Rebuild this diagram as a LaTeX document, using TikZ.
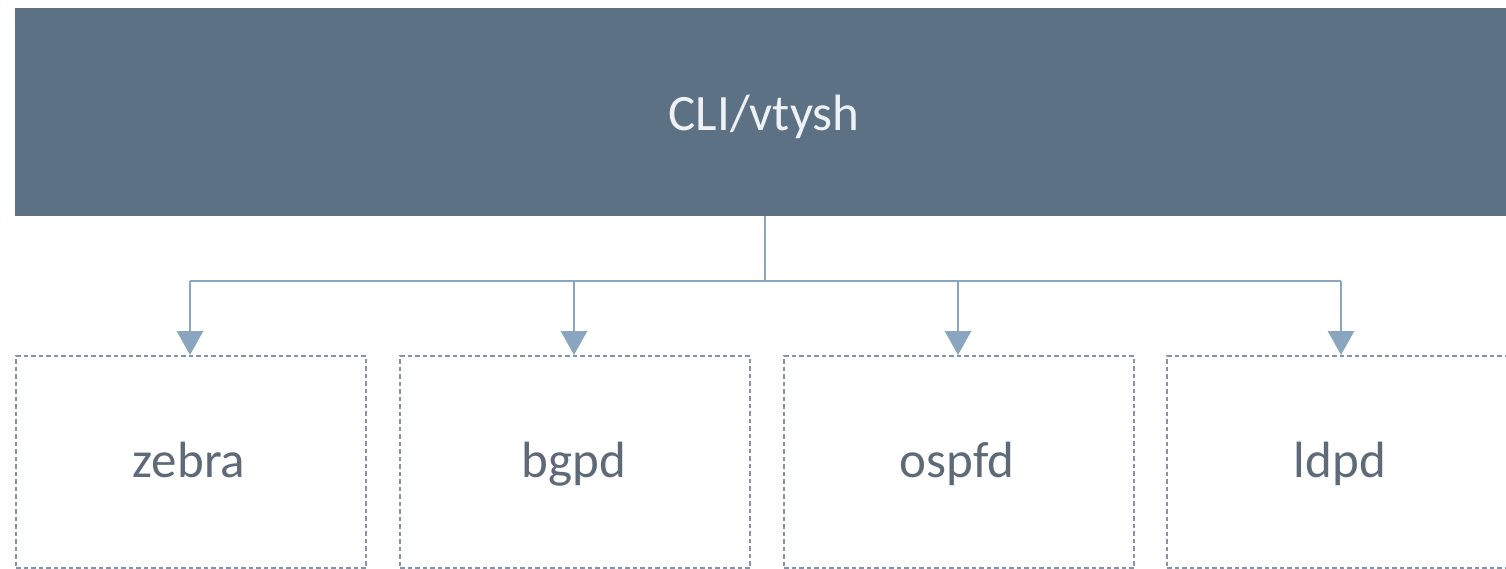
\documentclass[tikz,border=0pt]{standalone}
\usepackage{fontspec}
\setmainfont{Carlito}
\usetikzlibrary{arrows.meta}
\definecolor{barfill}{HTML}{5D7185}
\definecolor{bartext}{HTML}{EEF2F6}
\definecolor{boxline}{HTML}{8394A8}
\definecolor{boxtext}{HTML}{5E6A78}
\definecolor{conn}{HTML}{8AA5BE}
\tikzset{
  x=1pt, y=-1pt,
  labelfont/.style={font=\fontsize{51}{60}\selectfont, anchor=base, inner sep=0pt},
  topbar/.style={fill=barfill, draw=none, inner sep=0pt},
  daemon/.style={draw=boxline, line width=2.4pt, dash pattern=on 4.5pt off 3pt,
    fill=white, inner sep=0pt, minimum width=350pt, minimum height=212pt},
  conline/.style={draw=conn, line width=2.8pt},
  conarrow/.style={conline, -{Triangle[width=26pt,length=24pt]}}
}
\begin{document}
\begin{tikzpicture}
\useasboundingbox (0,0) rectangle (1506,568);
\node[topbar, minimum width=1520pt, minimum height=208pt, anchor=north west] (cli) at (15,8) {};
\node[labelfont, text=bartext] (clitext) at (764,130) {CLI/vtysh};
\node[daemon, anchor=north west] (zebra) at (15,355) {};
\node[daemon, anchor=north west] (bgpd) at (399,355) {};
\node[daemon, anchor=north west] (ospfd) at (783,355) {};
\node[daemon, anchor=north west] (ldpd) at (1166,355) {};
\node[labelfont, text=boxtext] (tzebra) at (189,477) {zebra};
\node[labelfont, text=boxtext] (tbgpd) at (574,477) {bgpd};
\node[labelfont, text=boxtext] (tospfd) at (957,477) {ospfd};
\node[labelfont, text=boxtext] (tldpd) at (1340,477) {ldpd};
\coordinate (hub) at (765,281);
\coordinate (jz) at (190,281);
\coordinate (jb) at (574,281);
\coordinate (jo) at (958,281);
\coordinate (jl) at (1341,281);
\draw[conline] (cli.south -| hub) -- (hub);
\draw[conline] (jz) -- (jl);
\draw[conarrow] (jz) -- (jz |- zebra.north);
\draw[conarrow] (jb) -- (jb |- bgpd.north);
\draw[conarrow] (jo) -- (jo |- ospfd.north);
\draw[conarrow] (jl) -- (jl |- ldpd.north);
\end{tikzpicture}
\end{document}
